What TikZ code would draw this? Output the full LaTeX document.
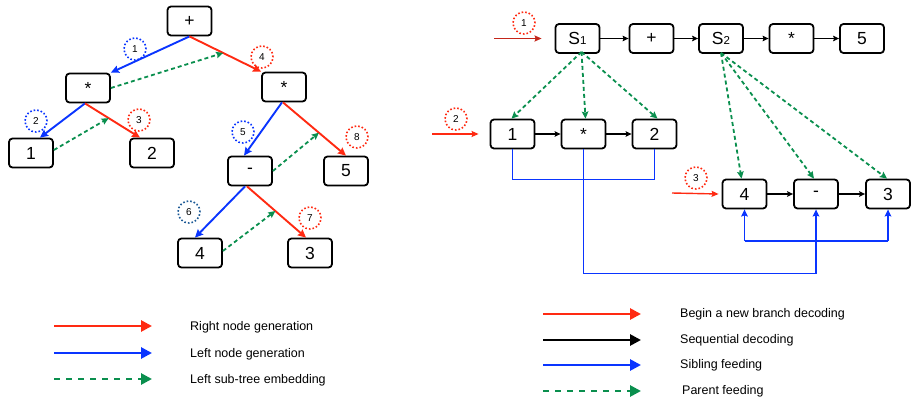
\documentclass[tikz,border=0pt]{standalone}
\usepackage{fontspec}
\setmainfont{Liberation Sans}
\usetikzlibrary{arrows.meta}
\definecolor{rred}{HTML}{FF2A12}
\definecolor{dred}{HTML}{C4261A}
\definecolor{bblue}{HTML}{0A35FF}
\definecolor{ggreen}{HTML}{0A8F4E}
\definecolor{dkblue}{HTML}{1D5A96}
\tikzset{
  box/.style={draw, rounded corners=3.5pt, line width=1.8pt, minimum width=44pt, minimum height=29pt, inner sep=0pt, font=\fontsize{17.5}{17.5}\selectfont},
  tip/.style={-{Stealth[length=8pt,width=7.5pt,inset=1pt]}},
  rgen/.style={tip, draw=rred, line width=1.9pt, fill=rred},
  lgen/.style={tip, draw=bblue, line width=1.9pt},
  sub/.style={-{Stealth[length=7pt,width=6.5pt,inset=1pt]}, draw=ggreen, line width=1.8pt, dash pattern=on 4pt off 3pt},
  seq/.style={-{Stealth[length=6pt,width=5.5pt,inset=1pt]}, draw=black, line width=1.1pt},
  entry/.style={-{Stealth[length=7pt,width=6pt,inset=1pt]}, line width=1.4pt},
  sib/.style={draw=bblue, line width=1.7pt},
  num/.style={draw, circle, dotted, line width=1.6pt, minimum size=22pt, inner sep=0pt, font=\fontsize{10}{10}\selectfont},
  legarrow/.style={-{Triangle[length=11pt,width=11pt]}, line width=2.7pt},
  legtext/.style={anchor=west, font=\fontsize{12.5}{12.5}\selectfont, inner sep=0pt}
}
\begin{document}
\begin{tikzpicture}[x=1pt,y=-1pt]
\useasboundingbox (0,0) rectangle (913,399);
% ---------- left tree ----------
\node[box] (plus) at (189.5,21) {+};
\node[box] (lm) at (88,88) {*};
\node[box] (rm) at (284,87) {*};
\node[box] (n1) at (31,153) {1};
\node[box] (n2) at (152,153) {2};
\node[box] (mi) at (250,171) {-};
\node[box] (n5) at (346,171) {5};
\node[box] (n4) at (200,253) {4};
\node[box] (n3) at (310,253) {3};

\draw[lgen] (plus.south) -- (lm.north east);
\draw[rgen] (plus.south) -- (rm.north west) coordinate[pos=0.47] (m1);
\draw[lgen] ([xshift=-3pt]lm.south) -- ([xshift=9pt]n1.north);
\draw[rgen] ([xshift=-3pt]lm.south) -- ([xshift=-12pt]n2.north) coordinate[pos=0.43] (m2);
\draw[lgen] ([xshift=-2pt]rm.south) -- ([xshift=-6pt]mi.north);
\draw[rgen] ([xshift=-1pt]rm.south) -- (n5.north) coordinate[pos=0.57] (m3);
\draw[lgen] ([xshift=-5pt]mi.south) -- ([xshift=-5pt]n4.north);
\draw[rgen] ([xshift=-3pt]mi.south) -- ([xshift=-4pt]n3.north) coordinate[pos=0.48] (m4);

\draw[sub] (lm.east) -- (m1);
\draw[sub] ([yshift=3pt]n1.east) -- (m2);
\draw[sub] (mi.east) -- (m3);
\draw[sub] ([yshift=2pt]n4.east) -- (m4);

\node[num, bblue] (c1) at (135,49) {\color{black}1};
\node[num, bblue] (c2) at (36,121) {\color{black}2};
\node[num, rred] (c3) at (139,120) {\color{black}3};
\node[num, rred] (c4) at (262,57) {\color{black}4};
\node[num, bblue] (c5) at (243,132) {\color{black}5};
\node[num, dkblue] (c6) at (189,212) {\color{black}6};
\node[num, rred] (c7) at (310,218) {\color{black}7};
\node[num, rred] (c8) at (357,137) {\color{black}8};

% ---------- right part ----------
\node[box] (s1) at (577.5,38.5) {S{\fontsize{11.5}{11.5}\selectfont 1}};
\node[box] (p2) at (651.5,38.5) {+};
\node[box] (s2) at (721,38.5) {S{\fontsize{11.5}{11.5}\selectfont 2}};
\node[box] (st) at (791.5,38.5) {*};
\node[box] (f5) at (862,38.5) {5};
\node[box] (r1) at (512.5,134) {1};
\node[box] (rs) at (583.5,134) {*};
\node[box] (r2) at (654.5,134) {2};
\node[box] (r4) at (744.5,194) {4};
\node[box] (rmi) at (816,194) {-};
\node[box] (r3) at (888,194) {3};

\draw[seq] (s1) -- (p2);
\draw[seq] (p2) -- (s2);
\draw[seq] (s2) -- (st);
\draw[seq] (st) -- (f5);
\draw[seq] (r1) -- (rs);
\draw[seq] (rs) -- (r2);
\draw[seq] (r4) -- (rmi);
\draw[seq] (rmi) -- (r3);

\coordinate (e1) at (494,38.5);
\coordinate (e2) at (432,134);
\coordinate (e3) at (672,193);
\draw[entry, dred] (e1) -- ([xshift=-13pt]s1.west);
\draw[entry, rred] (e2) -- ([xshift=-11pt]r1.west);
\draw[entry, rred] (e3) -- ([xshift=-3pt]r4.west);

\node[num, rred] (d1) at (524,23) {\color{black}1};
\node[num, rred] (d2) at (456,119) {\color{black}2};
\node[num, rred] (d3) at (696,178) {\color{black}3};

\draw[sub] ([xshift=4pt,yshift=2pt]s1.south) -- ([xshift=-1pt]r1.north);
\draw[sub] ([xshift=4pt,yshift=2pt]s1.south) -- ([xshift=2pt]rs.north);
\draw[sub] ([xshift=4pt,yshift=2pt]s1.south) -- ([xshift=3pt]r2.north);
\draw[sub] ([yshift=1pt]s2.south) -- ([xshift=-3pt]r4.north);
\draw[sub] ([yshift=1pt]s2.south) -- ([xshift=-2pt]rmi.north);
\draw[sub] ([yshift=1pt]s2.south) -- ([xshift=-1pt]r3.north);

\draw[sib] (r1.south) -- ++(0,30) -| (r2.south);
\draw[sib, -{Stealth[length=7pt,width=6.5pt,inset=1pt]}] (rs.south) -- ++(0,124) -| (rmi.south);
\coordinate (b4) at (744.5,241);
\coordinate (b3) at (888,241);
\draw[sib] (b4) -- (b3);
\draw[sib, -{Stealth[length=7pt,width=6.5pt,inset=1pt]}] (b4) -- (r4.south);
\draw[sib, -{Stealth[length=7pt,width=6.5pt,inset=1pt]}] (b3) -- (r3.south);

% ---------- legend ----------
\coordinate (la1) at (54,326); \coordinate (lb1) at (152,326);
\coordinate (la2) at (54,353); \coordinate (lb2) at (152,353);
\coordinate (la3) at (54,379); \coordinate (lb3) at (152,379);
\draw[legarrow, rred] (la1) -- (lb1);
\draw[legarrow, bblue] (la2) -- (lb2);
\draw[legarrow, ggreen, dash pattern=on 6pt off 6pt] (la3) -- (lb3);
\node[legtext] (t1) at (190,327) {Right node generation};
\node[legtext] (t2) at (190,354) {Left node generation};
\node[legtext] (t3) at (190,380) {Left sub-tree embedding};

\coordinate (ra1) at (543,314); \coordinate (rb1) at (641,314);
\coordinate (ra2) at (543,340); \coordinate (rb2) at (641,340);
\coordinate (ra3) at (543,365); \coordinate (rb3) at (641,365);
\coordinate (ra4) at (543,391); \coordinate (rb4) at (641,391);
\draw[legarrow, rred] (ra1) -- (rb1);
\draw[legarrow, black] (ra2) -- (rb2);
\draw[legarrow, bblue] (ra3) -- (rb3);
\draw[legarrow, ggreen, dash pattern=on 6pt off 6pt] (ra4) -- (rb4);
\node[legtext] (u1) at (680,314) {Begin a new branch decoding};
\node[legtext] (u2) at (680,340) {Sequential decoding};
\node[legtext] (u3) at (680,365) {Sibling feeding};
\node[legtext] (u4) at (682,391) {Parent feeding};
\end{tikzpicture}
\end{document}
